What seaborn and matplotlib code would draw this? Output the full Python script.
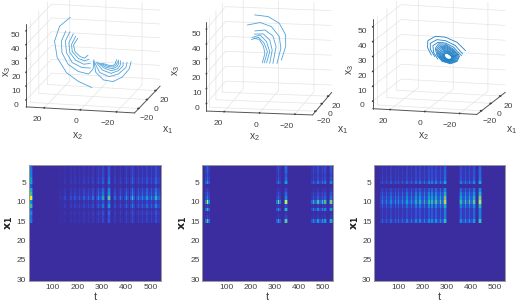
import numpy as np
import pandas as pd
import matplotlib
matplotlib.use("Agg")
import matplotlib.pyplot as plt
from matplotlib.colors import LinearSegmentedColormap
import seaborn as sns

# top row: (x2, x3) traces, x1 held at 0
traces_a = [
    [(12.5, 51.5), (18.5, 44.5), (21.3, 33.5), (19.8, 21.6), (14.7, 11.2), (8.1, 5.3), (0.6, 1.4)],
    [(15.1, 41.2), (17.5, 33.8), (17.2, 25.4), (13.8, 17.3), (8.1, 12.5), (2.5, 11.1), (0, 14.9), (-0.4, 20.9)],
    [(12.8, 40.9), (15.3, 34), (14.7, 25.6), (11.5, 18.7), (6.2, 15.5), (1.5, 15.5)],
    [(10.9, 39.6), (13.4, 32.9), (12.8, 25.8), (9.6, 20.5), (5.3, 18), (1.5, 18.8)],
    [(9.6, 38), (11.9, 31.8), (11.5, 26.6), (8.1, 21.9), (4.7, 20.5), (2.1, 21.9)],
    [(8.5, 36.5), (10.8, 31.5), (10, 26.7), (7.2, 23.4), (4.7, 22.4), (2.8, 24.7)],
    [(-0.4, 21.6), (-1.5, 12.6), (-5.8, 7.4), (-11, 6.6), (-16, 10.1), (-20, 16.4), (-21, 21.7)],
    [(-0.9, 19.7), (-3.6, 12.7), (-8.8, 10), (-14, 12.3), (-18.2, 17.4), (-18.8, 21.1)],
    [(-1.7, 19.8), (-5.2, 14.5), (-9.9, 12.5), (-14, 14.7), (-16.6, 18.5), (-16.6, 20.9)],
    [(-2.5, 19.9), (-6.1, 16), (-10.2, 14.4), (-13.7, 16.1), (-15.1, 19.1), (-15.1, 22)],
    [(-3.2, 19.4), (-7.3, 16.6), (-10.9, 15.9), (-13.2, 17.5), (-14.2, 20), (-14, 22.4)],
    [(-4.2, 19.3), (-8.2, 17.4), (-11.1, 17.1), (-12.8, 18.7), (-13.4, 20.7), (-13, 22.6)],
    [(-5.1, 19.4), (-8.8, 18.2), (-10.9, 18.1), (-12.3, 19.6), (-12.5, 21.3)],
]
traces_b = [
    [(8.1, 53), (0.5, 52.2), (-5.8, 48), (-9.4, 40.3), (-9.4, 32.5), (-7, 23.3)],
    [(12.3, 46), (5, 48), (-1.3, 45.6), (-5.8, 39), (-6.7, 31.2), (-4.5, 20.9)],
    [(8.1, 42.2), (2.3, 43.1), (-2.2, 39.3), (-4, 32.2), (-2.2, 20.8)],
    [(8.3, 40.1), (3.2, 40.4), (-0.4, 36.5), (-1.8, 29.8), (-0.4, 20.7)],
    [(9.5, 37.8), (5, 39.6), (1.4, 35.3), (-0.4, 28.6), (1.4, 21.1)],
    [(9.9, 36.4), (5.9, 38), (2.7, 34.1), (0.9, 28.6), (2.7, 21)],
    [(8.6, 37.2), (5.6, 36.7), (3.2, 32.3), (2.3, 27.4), (3.8, 21)],
]
traces_c = [
    [(-15.3, 29.5), (-10.4, 34.8), (-3.7, 37.8), (2.1, 38), (6.4, 34.8), (6.6, 30.2), (4.4, 25.2)],
    [(-13.7, 27.1), (-9.5, 32.5), (-3.7, 35.5), (1.2, 35.8), (5, 33.1), (5, 29.2), (2.5, 24.4)],
    [(-13, 25.9), (-8.5, 31.3), (-3.7, 33.9), (0.6, 34), (3.5, 31.6), (3.1, 27.1), (0.6, 22.7)],
    [(-11.4, 26.5), (-8.5, 29.9), (-3.7, 33.1), (0.2, 33.1), (2.1, 29.9), (1.2, 25.3), (-1.7, 21.5), (-6.6, 20.1), (-10.4, 21.9), (-11.8, 25.3), (-11.4, 26.5)],
    [(-10.9, 26.3), (-8.2, 29.4), (-3.9, 32.3), (-0.3, 32.3), (1.4, 29.4), (0.6, 25.2), (-2, 21.8), (-6.5, 20.5), (-10, 22.1), (-11.2, 25.1), (-10.9, 26.3)],
    [(-10.3, 26.1), (-7.9, 29), (-4, 31.5), (-0.8, 31.5), (0.8, 29), (0, 25.1), (-2.4, 22), (-6.4, 20.9), (-9.5, 22.3), (-10.6, 25), (-10.3, 26.1)],
    [(-9.8, 25.9), (-7.7, 28.5), (-4.1, 30.8), (-1.2, 30.8), (0.2, 28.5), (-0.5, 25), (-2.7, 22.2), (-6.3, 21.2), (-9.1, 22.5), (-10.1, 25), (-9.8, 25.9)],
    [(-9.4, 25.7), (-7.4, 28), (-4.2, 30.1), (-1.7, 30.1), (-0.4, 28), (-1, 24.9), (-3, 22.4), (-6.2, 21.5), (-8.7, 22.7), (-9.6, 24.9), (-9.4, 25.7)],
    [(-8.9, 25.5), (-7.2, 27.6), (-4.3, 29.4), (-2.1, 29.4), (-0.9, 27.6), (-1.5, 24.8), (-3.2, 22.6), (-6.1, 21.8), (-8.3, 22.8), (-9.1, 24.8), (-8.9, 25.5)],
    [(-8.5, 25.4), (-7, 27.2), (-4.5, 28.8), (-2.5, 28.8), (-1.5, 27.2), (-2, 24.8), (-3.5, 22.8), (-6, 22.1), (-8, 23), (-8.7, 24.8), (-8.5, 25.4)],
    [(-8.1, 25.2), (-6.8, 26.8), (-4.6, 28.2), (-2.9, 28.2), (-1.9, 26.8), (-2.4, 24.7), (-3.7, 22.9), (-5.9, 22.3), (-7.7, 23.1), (-8.3, 24.7), (-8.1, 25.2)],
    [(-7.8, 25.1), (-6.6, 26.5), (-4.7, 27.7), (-3.2, 27.7), (-2.4, 26.5), (-2.8, 24.7), (-3.9, 23.1), (-5.9, 22.6), (-7.4, 23.3), (-8, 24.7), (-7.8, 25.1)],
    [(-7.5, 25), (-6.4, 26.2), (-4.8, 27.3), (-3.5, 27.3), (-2.7, 26.2), (-3.1, 24.6), (-4.1, 23.2), (-5.8, 22.8), (-7.2, 23.4), (-7.7, 24.6), (-7.5, 25)],
    [(-7.2, 24.9), (-6.3, 25.9), (-4.9, 26.9), (-3.8, 26.9), (-3.1, 25.9), (-3.4, 24.6), (-4.3, 23.4), (-5.8, 23), (-7, 23.5), (-7.4, 24.6), (-7.2, 24.9)],
]
line_colors = ["#4fa3dc", "#4fa3dc", "#1f80c8"]

# bottom row: pulse times, pulse strengths and strength per row x_1 = 1..15
pulse_t_a = [10, 130, 150, 170, 190, 208, 229, 246, 264, 284, 306, 330, 352, 378, 401, 425, 450, 466, 486, 503, 519, 534]
pulse_v_a = [1.0, .06, .1, .12, .14, .16, .18, .2, .22, .36, .42, .62, .2, .24, .36, .55, .32, .36, .36, .36, .5, .2]
rows_a = [.22, .25, .25, .35, .4, .15, .45, .55, 1.0, .3, .55, .15, .3, .2, .25]

pulse_t_b = [24, 319, 347, 461, 478, 494, 511, 533]
pulse_v_b = [.95, .7, .95, .5, .55, .55, .55, .7]
rows_b = [.2, .2, .15, .2, .42, .02, .1, .2, .3, 1.0, .1, .55, .05, .1, .65]

pulse_t_c = [36, 52, 70, 86, 103, 120, 137, 154, 172, 190, 206, 224, 240, 256, 273, 295, 358, 376, 392, 410, 436]
pulse_v_c = [.3, .3, .3, .32, .34, .36, .38, .4, .44, .46, .48, .5, .52, .55, .6, .85, .52, .56, .58, .62, .9]
rows_c = [.18, .22, .22, .25, .5, .02, .35, .55, .75, 1.0, .55, .3, .3, .3, .62]

parula = ["#3b2ca0", "#2f4fdc", "#1485d4", "#06a7c6", "#38b99e", "#92bf73", "#d9ba56", "#fcce2e", "#f9fb0e"]
views = [(14, 193), (12, 190), (12, 195)]
z_aspect = [250, 276, 276]
tops = [[-0.0044, 0.5226, 0.359, 0.577], [0.3373, 0.5185, 0.355, 0.572], [0.6654, 0.5225, 0.355, 0.572]]
bottoms = [[0.056, 0.0757, 0.2548, 0.381], [0.3906, 0.0757, 0.2526, 0.381], [0.7226, 0.0757, 0.2529, 0.381]]
# axis label spots in pixels: x1, x2, x3 per panel
label_px = [[(168, 130), (77, 136), (7, 72)], [(343, 130), (254, 137), (176, 71)], [(512, 130), (423, 136), (350, 70)]]

sns.set_theme(style="white")
plt.rcParams["font.family"] = ["Liberation Sans", "DejaVu Sans"]
plt.rcParams["mathtext.default"] = "regular"
cmap = LinearSegmentedColormap.from_list("parula", parula)
gray = "#404040"

fig = plt.figure(figsize=(5.18, 3.04), dpi=100)

for traces, view, pos, col, spots, za in zip([traces_a, traces_b, traces_c], views, tops, line_colors, label_px, z_aspect):
    ax = fig.add_axes(pos, projection="3d")
    ax.set_proj_type("ortho")
    ax.view_init(elev=view[0], azim=view[1])
    ax.set_box_aspect((333, 326, za))
    ax.patch.set_alpha(0)
    for tr in traces:
        df = pd.DataFrame(tr, columns=["x2", "x3"])
        ax.plot(np.zeros(len(df)), df["x2"], df["x3"], color=col, lw=0.6)
    ax.set_xlim(-30, 30)
    ax.set_ylim(-30, 30)
    ax.set_zlim(-5, 55)
    ax.set_xticks([-20, 0, 20])
    ax.set_yticks([-20, 0, 20])
    ax.set_zticks([0, 10, 20, 30, 40, 50])
    ax.tick_params(labelsize=6, colors=gray, pad=-3)
    for lab in ax.yaxis.get_ticklabels():
        lab.set_ha("right")
    for axis in (ax.xaxis, ax.yaxis, ax.zaxis):
        axis.set_pane_color((1, 1, 1, 0))
        axis.pane.set_edgecolor("#e4e4e4")
        axis.line.set_color("#555555")
        axis.line.set_linewidth(0.7)
        axis._axinfo["grid"].update(color="#e4e4e4", linewidth=0.5)
        axis._axinfo["tick"].update(inward_factor=0.0, outward_factor=0.1)
    for name, (px, py) in zip(["x$_{1}$", "x$_{2}$", "x$_{3}$"], spots):
        fig.text(px / 518, 1 - py / 304, name, fontsize=7.5, color=gray, ha="center", va="center",
                 rotation=90 if name == "x$_{3}$" else 0)

bin_w = 6
t_bins = np.arange(2, 540, bin_w)
shape = [.35, 1, .35]
for p_t, p_v, rows, pos in zip([pulse_t_a, pulse_t_b, pulse_t_c], [pulse_v_a, pulse_v_b, pulse_v_c],
                               [rows_a, rows_b, rows_c], bottoms):
    pulses = np.zeros(len(t_bins))
    for t, v in zip(p_t, p_v):
        i = (t - t_bins[0]) // bin_w
        for k, s in enumerate(shape):
            j = i + k - 1
            if 0 <= j < len(pulses):
                pulses[j] = max(pulses[j], v * s)
    grid = np.outer(list(rows) + [0] * 15, pulses)
    ax = fig.add_axes(pos)
    sns.heatmap(grid, ax=ax, cmap=cmap, vmin=0, vmax=1.05, cbar=False,
                xticklabels=False, yticklabels=False)
    ax.set_xticks([(t - t_bins[0]) / bin_w for t in [100, 200, 300, 400, 500]])
    ax.set_xticklabels([100, 200, 300, 400, 500], rotation=0)
    ax.set_yticks([4.5, 9.5, 14.5, 19.5, 24.5, 29.5])
    ax.set_yticklabels([5, 10, 15, 20, 25, 30], rotation=0)
    ax.tick_params(length=0, labelsize=6, colors=gray, pad=2)
    ax.set_xlabel("t", fontsize=8, color=gray, labelpad=1)
    ax.set_ylabel("$\\mathbf{x}_{\\mathbf{1}}$", fontsize=8, color="#202020", labelpad=1)
    for sp in ax.spines.values():
        sp.set_visible(True)
        sp.set_color("#999999")
        sp.set_linewidth(0.7)

fig.savefig("out.png", dpi=100)
